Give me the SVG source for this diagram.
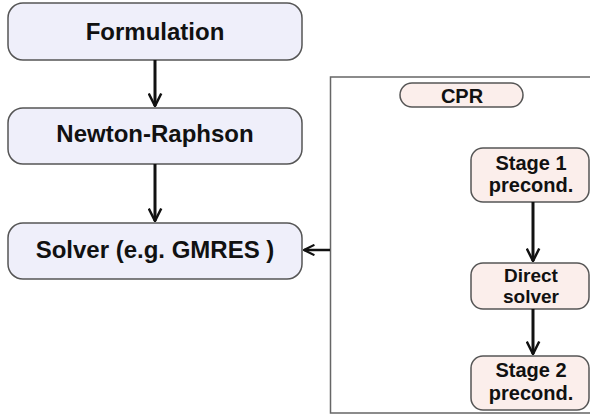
<svg xmlns="http://www.w3.org/2000/svg" width="590" height="415" viewBox="0 0 590 415">
<defs>
<style>
.main{fill:#efeffa;stroke:#555;stroke-width:1.5}
.cpr{fill:#fbeeeb;stroke:#555;stroke-width:1.5}
.t{font-family:"Liberation Sans",Arial,sans-serif;font-weight:bold;fill:#111;text-anchor:middle}
.big{font-size:24px}
.small{font-size:20px}
.tight{font-size:19px}
.edge{stroke:#111;stroke-width:3;fill:none;marker-end:url(#arr)}
.edge2{stroke:#111;stroke-width:2.5;fill:none;marker-end:url(#arr)}
</style>
<marker id="arr" viewBox="0 0 12 12" refX="11" refY="6" markerWidth="5" markerHeight="5" markerUnits="strokeWidth" orient="auto">
<path d="M1,1 L11,6 L1,11" fill="none" stroke="#111" stroke-width="2"/>
</marker>
</defs>
<rect x="0" y="0" width="590" height="415" fill="#fff"/>
<g id="cpr-container">
<path d="M600,77 H330.5 V413 H600" fill="#fff" stroke="#666" stroke-width="1.5"/>
</g>
<g id="formulation">
<rect class="main" x="8" y="3" width="294" height="57" rx="15"/>
<text class="t big" x="155" y="40">Formulation</text>
</g>
<g id="newton">
<rect class="main" x="8" y="108" width="294" height="56" rx="15"/>
<text class="t big" x="155" y="142">Newton-Raphson</text>
</g>
<g id="solver">
<rect class="main" x="8" y="223" width="294" height="56" rx="15"/>
<text class="t big" x="155" y="258">Solver (e.g. GMRES )</text>
</g>
<g id="cpr-label">
<rect class="cpr" x="400" y="83" width="123" height="24" rx="12"/>
<text class="t small" x="462" y="103">CPR</text>
</g>
<g id="stage1">
<rect class="cpr" x="471" y="148" width="118" height="54" rx="12"/>
<text class="t small" x="531" y="170">Stage 1</text>
<text class="t small" x="531" y="192">precond.</text>
</g>
<g id="direct">
<rect class="cpr" x="471" y="263" width="118" height="46" rx="12"/>
<text class="t tight" x="531" y="282">Direct</text>
<text class="t tight" x="531" y="303">solver</text>
</g>
<g id="stage2">
<rect class="cpr" x="471" y="356" width="118" height="54" rx="12"/>
<text class="t small" x="531" y="377">Stage 2</text>
<text class="t small" x="531" y="400">precond.</text>
</g>
<g id="connectors">
<line class="edge" x1="155" y1="60" x2="155" y2="106"/>
<line class="edge" x1="155" y1="164" x2="155" y2="221"/>
<line class="edge2" x1="330" y1="250" x2="304" y2="250"/>
<line class="edge" x1="533" y1="202" x2="533" y2="261"/>
<line class="edge" x1="533" y1="309" x2="533" y2="354"/>
</g>
</svg>
